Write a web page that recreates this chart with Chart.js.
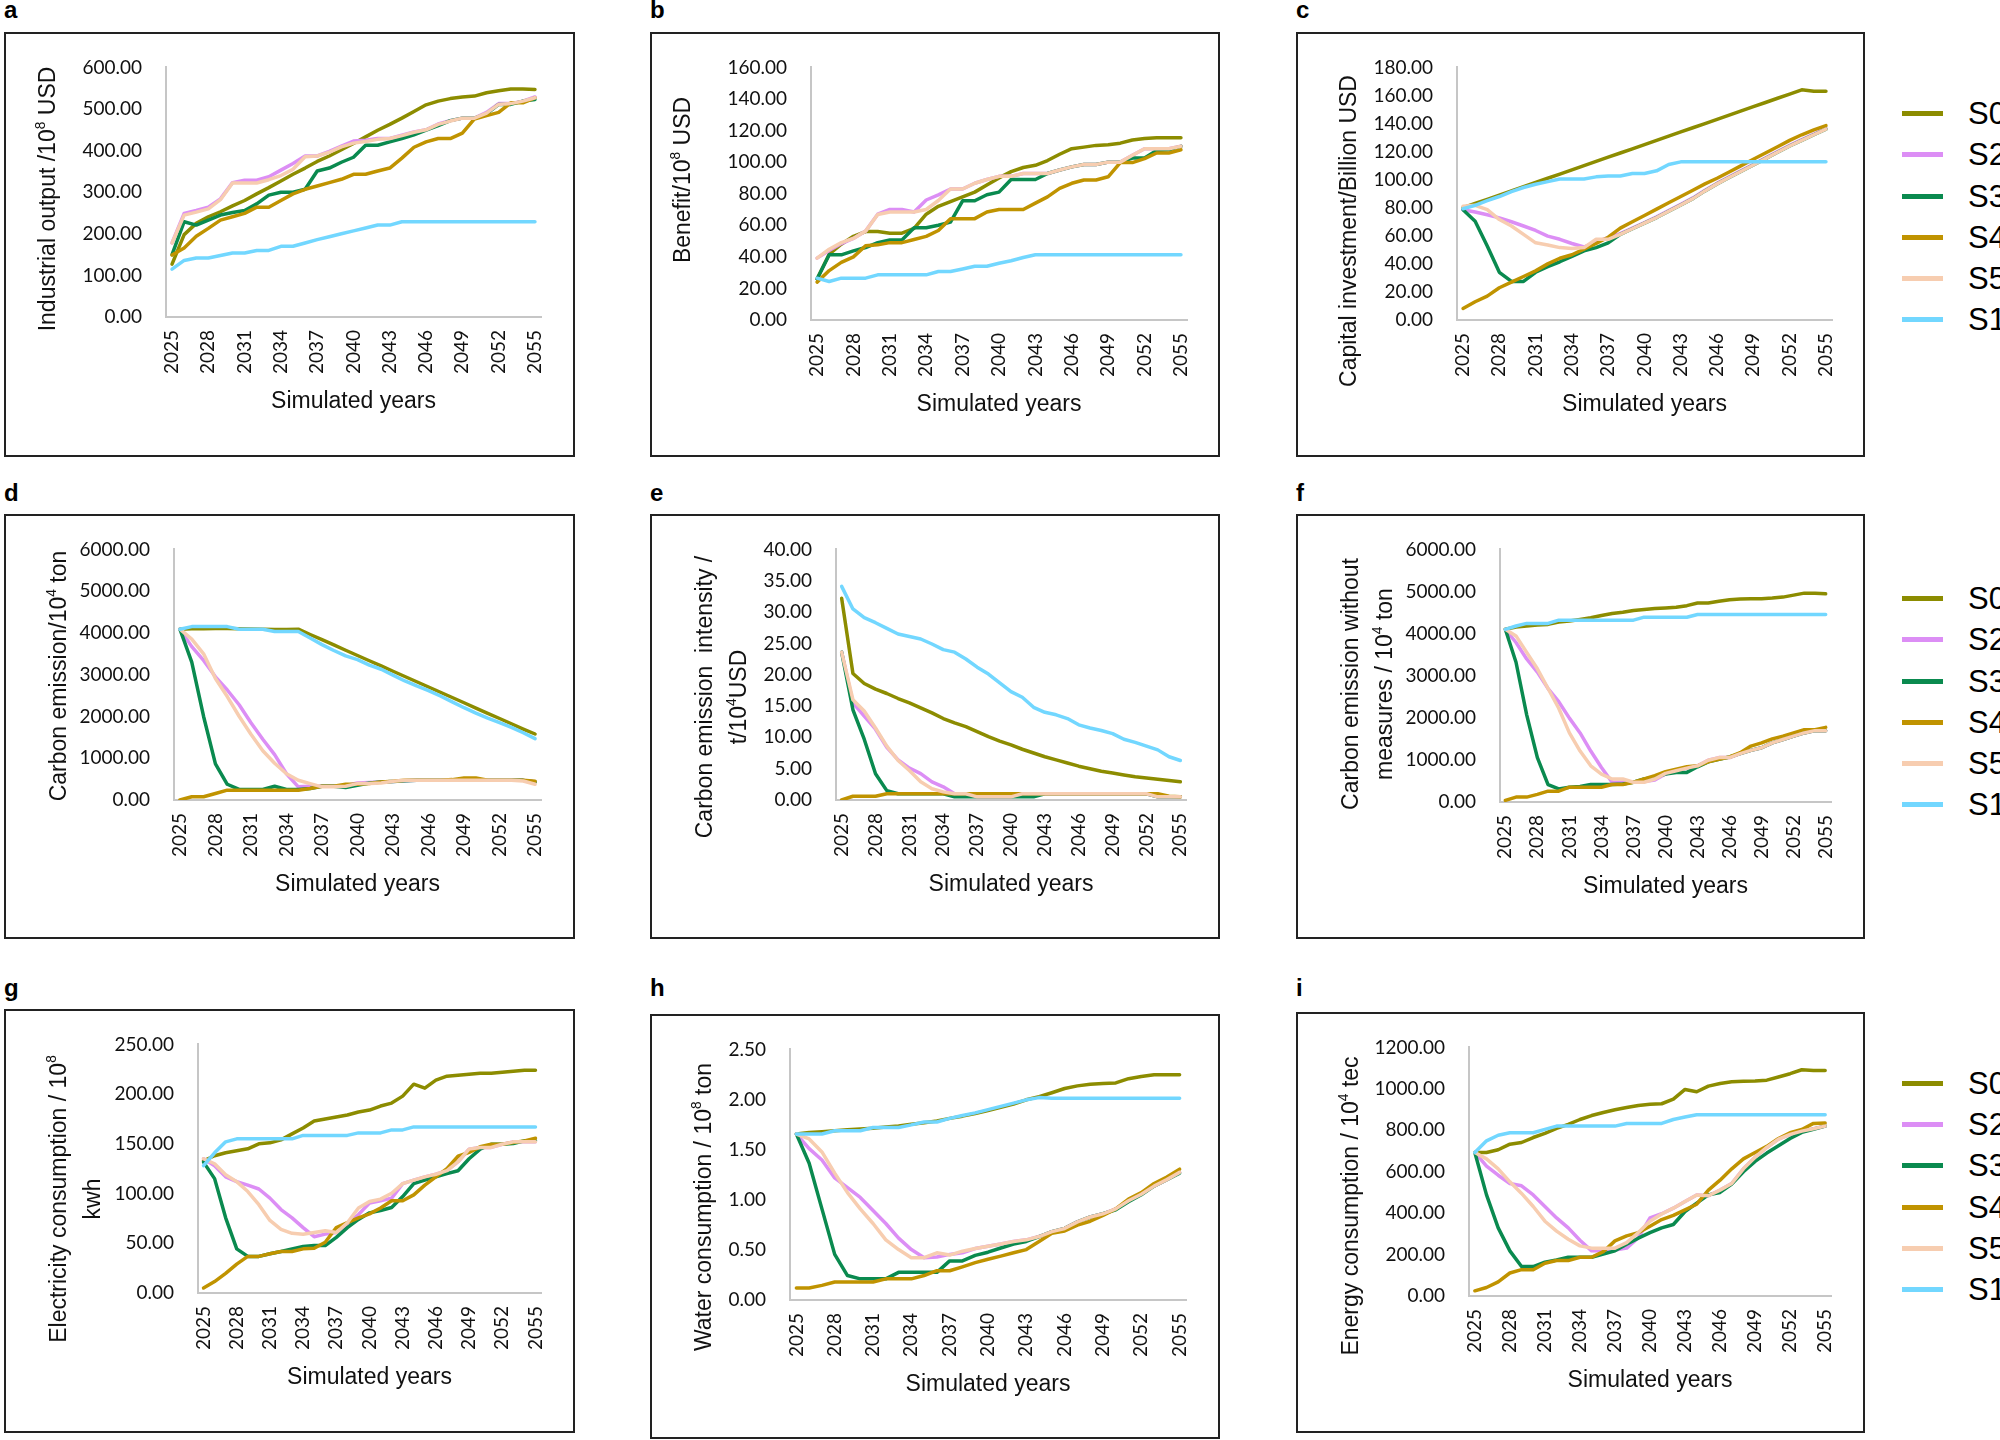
<!DOCTYPE html>
<html>
<head>
<meta charset="utf-8">
<script src="https://cdn.jsdelivr.net/npm/chart.js@4.4.1/dist/chart.umd.min.js"></script>
<style>
  body { margin: 0; width: 2000px; height: 1440px; background: #fff; overflow: hidden; position: relative; }
  .box { position: absolute; border: 2px solid #222; box-sizing: border-box; pointer-events: none; }
  canvas { position: absolute; }
  .ytitle, .xtitle { position: absolute; white-space: nowrap; text-align: center; color: #111;
    font-family: "Liberation Sans", Arial, sans-serif; font-size: 23px; line-height: 34px; }
  .ytitle { transform: translate(-50%, -50%) rotate(-90deg); }
  .xtitle { transform: translate(-50%, -50%); }
  sup { font-size: 0.6em; line-height: 0; vertical-align: 0.7em; }
  .letter { position: absolute; font: bold 24px "Liberation Sans", Arial, sans-serif; line-height: 24px; color: #000; }
  .legline { position: absolute; height: 5px; }
  .legtext { position: absolute; font-family: "Liberation Sans Narrow", "Liberation Sans", Arial, sans-serif; font-size: 31px; line-height: 31px; color: #000; }
</style>
</head>
<body>
<script>
// x categories
const years = ['2025','2026','2027','2028','2029','2030','2031','2032','2033','2034','2035','2036','2037','2038','2039','2040',
               '2041','2042','2043','2044','2045','2046','2047','2048','2049','2050','2051','2052','2053','2054','2055'];
const scenarioNames = ['S0', 'S2', 'S3', 'S4', 'S5', 'S1'];
const scenarioColors = ['#8c8c00', '#dc8ef5', '#0a8a4f', '#c09300', '#f7cdb0', '#72d7ff'];

// a - industrial output
const outputS0 = [127,198,225,241,253,267,280,296,311,327,343,358,374,387,402,417,433,449,463,478,494,510,519,525,529,531,539,544,548,548,547];
const outputS2 = [178,249,256,264,284,323,329,329,337,353,369,387,387,398,411,423,425,429,429,437,445,450,464,472,478,478,492,513,513,519,529];
const outputS3 = [150,229,221,233,245,251,256,272,293,300,300,307,351,358,372,384,413,413,421,429,438,449,460,472,478,478,488,511,511,519,523];
const outputS4 = [149,166,194,213,233,241,249,264,264,280,296,307,315,323,331,343,343,351,358,382,408,421,429,429,442,476,484,492,515,515,527];
const outputS5 = [178,245,252,260,282,322,322,322,330,340,355,385,387,396,409,418,422,427,429,436,444,450,463,471,478,478,490,511,513,519,527];
const outputS1 = [115,136,142,142,148,154,154,160,160,170,170,178,186,193,200,207,214,221,221,229,229,229,229,229,229,229,229,229,229,229,229];

// b - benefit
const benefitS0 = [26,41.7,48,53,56,56,55,55,58,67,72,75,78,81,85.5,90,94,96.6,98,101,105,108.5,109.5,110.6,111,112,114,115,115.4,115.4,115.4];
const benefitS2 = [39.2,44,48.4,51.7,56.3,67,70,70,68.4,76,79.3,83,83,86.6,89,91,91,92.8,92.8,92.8,95,97,98.5,98.5,100,100,104.3,108.5,108.5,108.5,110];
const benefitS3 = [26,41.3,41.3,43.8,45.9,49,50.7,50.7,58.4,58.4,60,62,75.5,75.5,79.3,81,89,89,89,92.8,95,97,98.5,98.5,100,100,102.6,102.6,107.4,107.8,110];
const benefitS4 = [24,31.3,36.5,40,47,47.6,49,49,51,53,56.7,64.2,64.2,64.2,68.4,70,70,70,74,78,83.4,86.6,88.7,88.7,90.7,99.7,99.7,102.2,105.8,105.8,107.8];
const benefitS5 = [39.2,44.8,49,51.7,56.3,66.8,68.4,68.4,68.4,70,75.7,83,83,86.6,89,91,91,92.8,92.8,92.8,95,97,98.5,98.5,100,100,104.3,108.5,108.5,108.5,110];
const benefitS1 = [26.5,24.4,26.5,26.5,26.5,28.6,28.6,28.6,28.6,28.6,30.7,30.7,32.3,34,34,35.9,37.5,39.6,41.3,41.3,41.3,41.3,41.3,41.3,41.3,41.3,41.3,41.3,41.3,41.3,41.3];

// c - capital investment
const capitalS0 = [80,83,86,89,92,95,98,101,104,107,110,113,116,119,122,125,128,131,134,137,140,143,146,149,152,155,158,161,164,163,163];
const capitalS2 = [78.6,77,75,72.8,70,67,63.8,59.8,57.5,54.5,52,55.9,58.7,61.5,65.5,69.5,73.5,78,82.5,87,92.5,97.5,102,106.5,111,115.5,120,124.5,128.5,132.5,136.5];
const capitalS3 = [78.6,70.4,52.8,34,27.5,27.5,34,38,41.5,45.3,49.3,51.6,55,61,65,69,73,77.5,82,86.5,92,97,101.5,106,110.5,115,119.5,124,128,132,136];
const capitalS4 = [8.2,13,17,23,27,31,35,40,44,46.5,50.5,54.5,59,65.5,70,74.5,79,83.5,88,92.5,97,101,105.5,110,114.5,119,123.5,128,132,135.5,138.5];
const capitalS5 = [81,81.7,78.6,71.6,67,61,55,53.5,51.6,51,51.6,57.5,57.5,61,65,69,73,77.5,82,86.5,92,97,101.5,106,110.5,115,119.5,124,128,132,136];
const capitalS1 = [79.3,81.7,85,88,91.5,94.4,96.7,98.6,100.5,100.5,100.5,102,102.6,102.6,104.4,104.4,106.3,110.8,112.7,112.7,112.7,112.7,112.7,112.7,112.7,112.7,112.7,112.7,112.7,112.7,112.7];

// d - carbon emission
const carbonS0 = [4090,4100,4100,4105,4105,4100,4095,4090,4085,4085,4090,3963,3838,3712,3586,3460,3334,3209,3083,2957,2831,2705,2580,2454,2328,2202,2076,1951,1825,1699,1580];
const carbonS2 = [4090,3672,3342,2949,2634,2281,1848,1455,1085,629,315,330,330,330,340,409,420,430,440,460,470,470,470,470,470,470,470,470,470,470,440];
const carbonS3 = [4090,3303,2000,865,377,252,252,252,330,252,252,275,330,330,300,354,409,432,440,460,470,470,470,470,470,470,470,470,470,470,430];
const carbonS4 = [0,79,79,157,236,236,236,236,236,236,236,275,330,330,377,377,393,432,448,472,472,472,472,488,527,527,472,472,472,472,448];
const carbonS5 = [4090,3853,3500,2910,2477,2005,1573,1180,881,629,472,393,315,315,330,393,393,409,448,472,472,472,472,472,472,472,472,472,472,456,377];
const carbonS1 = [4090,4152,4152,4152,4152,4090,4090,4090,4034,4034,4034,3880,3720,3580,3450,3360,3230,3130,2990,2850,2730,2620,2490,2350,2210,2080,1960,1850,1740,1610,1470];

// e - carbon emission intensity
const intensityS0 = [32.2,20.2,18.6,17.7,17,16.2,15.5,14.7,13.9,13,12.3,11.7,10.9,10.1,9.4,8.8,8.1,7.5,6.9,6.4,5.9,5.4,5,4.6,4.3,4,3.7,3.5,3.3,3.1,2.9];
const intensityS2 = [23.6,15.5,13.4,11.3,8.4,6.4,5.1,4.2,2.9,2.1,1,1,0.5,0.5,0.5,0.5,1,1,1,1,1,1,1,1,1,1,1,1,0.5,0.5,0.5];
const intensityS3 = [23.6,14.4,9.7,4.2,1.5,1,1,1,1,1,0.5,0.5,0.5,0.5,0.5,0.5,0.5,0.5,1,1,1,1,1,1,1,1,1,1,0.5,0.5,0.5];
const intensityS4 = [0,0.6,0.6,0.6,1,1,1,1,1,1,1,1,1,1,1,1,1,1,1,1,1,1,1,1,1,1,1,1,1,0.6,0.5];
const intensityS5 = [23.6,16,14.2,11.5,8.6,6.3,4.7,2.9,1.8,1.3,1,1,0.5,0.5,0.5,0.5,1,1,1,1,1,1,1,1,1,1,1,1,0.5,0.5,0.5];
const intensityS1 = [34.1,30.5,29.1,28.3,27.4,26.5,26.1,25.7,24.9,24,23.6,22.5,21.2,20.1,18.7,17.3,16.4,14.8,14,13.6,13,12,11.5,11.1,10.6,9.7,9.2,8.6,8,6.9,6.3];

// f - carbon emission without measures
const noMeasS0 = [4102,4156,4180,4203,4219,4273,4297,4336,4375,4430,4477,4508,4547,4570,4594,4609,4625,4664,4727,4727,4766,4805,4820,4828,4828,4844,4867,4914,4961,4961,4945];
const noMeasS2 = [4102,3789,3398,3086,2695,2383,1992,1641,1211,820,469,469,469,484,523,664,742,805,859,992,1055,1055,1148,1227,1289,1406,1484,1563,1641,1695,1695];
const noMeasS3 = [4102,3320,2070,1055,414,312,352,367,414,414,414,430,469,547,586,664,703,703,836,953,1016,1070,1148,1227,1289,1406,1484,1563,1641,1695,1695];
const noMeasS4 = [39,117,117,180,258,258,352,352,352,352,414,414,469,547,625,719,781,836,859,953,1016,1070,1172,1328,1406,1500,1563,1641,1719,1719,1773];
const noMeasS5 = [4102,3945,3555,3164,2695,2227,1641,1211,859,664,547,547,469,469,547,680,742,805,859,992,1055,1055,1148,1227,1289,1406,1484,1563,1641,1695,1695];
const noMeasS1 = [4102,4180,4242,4242,4242,4320,4320,4320,4320,4320,4320,4320,4320,4390,4390,4390,4390,4390,4453,4453,4453,4453,4453,4453,4453,4453,4453,4453,4453,4453,4453];

// g - electricity consumption
const elecS0 = [133,138,141,143,145,150,151,154,160,166,173,175,177,179,182,184,188,191,198,210,206,214,218,219,220,221,221,222,223,224,224];
const elecS2 = [135,128,116.8,112,108.5,104.6,95.4,83.9,75.6,65.8,56.6,59.2,60.8,69,79,90.4,92.7,95.4,110,113.5,116.8,119.4,123,132,144.7,146.4,146.4,149.6,152,152,152];
const elecS3 = [131.6,115,75.6,44.4,36.8,36.8,39.5,41.8,44.4,46.7,47.7,47.7,56,65.8,74,80.6,83,86,97,110,113.5,116.8,120,123,135,144.7,149.6,149.6,150.3,153,153];
const elecS4 = [5,11.5,19.7,29,36.8,36.8,39.5,41.8,41.8,44.4,45,51,65.8,70.7,75.6,79.6,85.5,92.7,92.7,98.7,108.5,116.8,125,137.5,141.4,147,149.6,149.6,151.3,153,155.6];
const elecS5 = [135,130,119,112,102,88.8,73,64,60,59,60.8,62.5,60.8,70.7,85.5,92,94.4,100.3,110,113.5,116.8,119.4,123,132,144.7,146.4,146.4,149.6,152,152,152];
const elecS1 = [128,141,152,155,155,155,155,155,155,158.5,158.5,158.5,158.5,158.5,161,161,161,164,164,167,167,167,167,167,167,167,167,167,167,167,167];

// h - water consumption
const waterS0 = [1.656,1.672,1.679,1.688,1.698,1.705,1.714,1.727,1.737,1.753,1.769,1.786,1.812,1.834,1.860,1.890,1.922,1.955,1.997,2.029,2.068,2.110,2.136,2.153,2.159,2.166,2.208,2.230,2.247,2.247,2.247];
const waterS2 = [1.656,1.51,1.396,1.218,1.12,1.023,0.893,0.763,0.617,0.503,0.422,0.429,0.455,0.471,0.513,0.536,0.558,0.584,0.6,0.633,0.682,0.714,0.779,0.828,0.86,0.909,0.99,1.055,1.136,1.201,1.273];
const waterS3 = [1.656,1.364,0.909,0.455,0.244,0.211,0.211,0.211,0.276,0.276,0.276,0.276,0.39,0.39,0.445,0.477,0.519,0.558,0.584,0.633,0.682,0.714,0.779,0.828,0.86,0.9,0.98,1.05,1.136,1.201,1.266];
const waterS4 = [0.12,0.12,0.146,0.179,0.179,0.179,0.179,0.211,0.211,0.211,0.244,0.292,0.292,0.331,0.373,0.406,0.438,0.471,0.503,0.584,0.666,0.688,0.747,0.786,0.844,0.909,1.006,1.071,1.162,1.227,1.305];
const waterS5 = [1.656,1.607,1.477,1.266,1.071,0.909,0.763,0.6,0.503,0.422,0.422,0.471,0.448,0.487,0.513,0.536,0.558,0.584,0.6,0.633,0.682,0.714,0.779,0.828,0.86,0.909,0.99,1.055,1.136,1.201,1.273];
const waterS1 = [1.656,1.656,1.656,1.688,1.688,1.688,1.721,1.721,1.721,1.747,1.776,1.776,1.812,1.841,1.867,1.899,1.932,1.964,1.997,2.019,2.013,2.013,2.013,2.013,2.013,2.013,2.013,2.013,2.013,2.013,2.013];

// i - energy consumption
const energyS0 = [693,693,706,733,741,765,785,809,828,852,871,886,899,910,920,926,928,950,997,986,1013,1026,1034,1037,1038,1042,1057,1073,1092,1089,1089];
const energyS2 = [693,627,583,543,532,488,432,377,329,269,218,218,222,231,282,377,397,424,456,488,484,511,543,614,670,717,757,780,796,807,820];
const energyS3 = [693,488,329,218,142,142,163,174,187,187,187,203,218,250,279,306,329,345,408,448,488,500,540,600,650,690,725,760,790,805,820];
const energyS4 = [25,41,68,111,127,127,158,171,171,187,187,214,266,290,306,337,369,389,416,443,511,559,614,662,693,722,760,788,804,833,835];
const energyS5 = [693,662,614,551,495,432,361,313,274,242,231,231,231,258,306,361,396,424,456,488,484,511,543,614,670,717,757,780,796,807,820];
const energyS1 = [693,749,776,788,788,788,804,820,820,820,820,820,820,833,833,833,833,852,864,875,875,875,875,875,875,875,875,875,875,875,875];

// layout: box = frame [l,t,r,b], plot = chart area [l,t,r,b], yt = y title centre
const panels = [
  { letter: 'a', box: [4, 32, 575, 457], plot: [166, 62, 541, 317], max: 600, step: 100,
    series: [outputS0, outputS2, outputS3, outputS4, outputS5, outputS1],
    yTitle: 'Industrial output /10<sup>8</sup> USD', yt: [47, 199] },
  { letter: 'b', box: [650, 32, 1220, 457], plot: [811, 64, 1187, 320], max: 160, step: 20,
    series: [benefitS0, benefitS2, benefitS3, benefitS4, benefitS5, benefitS1],
    yTitle: 'Benefit/10<sup>8</sup> USD', yt: [682, 180] },
  { letter: 'c', box: [1296, 32, 1865, 457], plot: [1457, 64, 1832, 320], max: 180, step: 20,
    series: [capitalS0, capitalS2, capitalS3, capitalS4, capitalS5, capitalS1],
    yTitle: 'Capital investment/Billion USD', yt: [1348, 231], legend: [113, 154, 196, 237, 278, 319] },
  { letter: 'd', box: [4, 514, 575, 939], plot: [174, 546, 541, 800], max: 6000, step: 1000,
    series: [carbonS0, carbonS2, carbonS3, carbonS4, carbonS5, carbonS1],
    yTitle: 'Carbon emission/10<sup>4</sup> ton', yt: [58, 676] },
  { letter: 'e', box: [650, 514, 1220, 939], plot: [836, 546, 1186, 800], max: 40, step: 5,
    series: [intensityS0, intensityS2, intensityS3, intensityS4, intensityS5, intensityS1],
    yTitle: 'Carbon emission&nbsp; intensity /<br>t/10<sup>4</sup>USD', yt: [721, 697] },
  { letter: 'f', box: [1296, 514, 1865, 939], plot: [1500, 546, 1831, 802], max: 6000, step: 1000,
    series: [noMeasS0, noMeasS2, noMeasS3, noMeasS4, noMeasS5, noMeasS1],
    yTitle: 'Carbon emission without<br>measures / 10<sup>4</sup> ton', yt: [1367, 684], legend: [598, 639, 681, 722, 763, 804] },
  { letter: 'g', box: [4, 1009, 575, 1433], plot: [198, 1040, 541, 1293], max: 250, step: 50,
    series: [elecS0, elecS2, elecS3, elecS4, elecS5, elecS1],
    yTitle: 'Electricity consumption / 10<sup>8</sup><br>kwh', yt: [75, 1199] },
  { letter: 'h', box: [650, 1014, 1220, 1439], plot: [790, 1043, 1186, 1300], max: 2.5, step: 0.5,
    series: [waterS0, waterS2, waterS3, waterS4, waterS5, waterS1],
    yTitle: 'Water consumption / 10<sup>8</sup> ton', yt: [703, 1207] },
  { letter: 'i', box: [1296, 1012, 1865, 1433], plot: [1469, 1043, 1831, 1296], max: 1200, step: 200,
    series: [energyS0, energyS2, energyS3, energyS4, energyS5, energyS1],
    yTitle: 'Energy consumption / 10<sup>4</sup> tec', yt: [1350, 1206], legend: [1083, 1124, 1165, 1207, 1248, 1289] }
];
const letterBaselines = { a: 18, b: 18, c: 18, d: 501, e: 501, f: 501, g: 996, h: 996, i: 996 };

const tickFont = { family: 'Lato', size: 19 };
const axisGray = '#c6c6c6';

function addEl(cls, html, css) {
  const el = document.createElement('div');
  el.className = cls;
  el.innerHTML = html;
  Object.assign(el.style, css);
  document.body.appendChild(el);
  return el;
}

function drawPanel(p) {
  const [bl, bt, br, bb] = p.box;
  const [pl, pt, pr, pb] = p.plot;
  const w = br - bl, h = bb - bt;

  const canvas = document.createElement('canvas');
  canvas.width = w;
  canvas.height = h;
  canvas.style.left = bl + 'px';
  canvas.style.top = bt + 'px';
  canvas.style.width = w + 'px';
  canvas.style.height = h + 'px';
  document.body.appendChild(canvas);

  new Chart(canvas, {
    type: 'line',
    data: {
      labels: years,
      datasets: p.series.map((vals, i) => ({
        label: scenarioNames[i],
        data: vals,
        borderColor: scenarioColors[i],
        backgroundColor: scenarioColors[i],
        borderWidth: 3.5,
        pointRadius: 0,
        tension: 0,
        fill: false,
        borderJoinStyle: 'round',
        borderCapStyle: 'round',
        order: 6 - i // later series drawn on top, as in the original
      }))
    },
    options: {
      responsive: false,
      animation: false,
      devicePixelRatio: 1,
      layout: { padding: { top: pt - bt, right: br - pr, left: 0, bottom: 0 } },
      plugins: { legend: { display: false }, tooltip: { enabled: false } },
      scales: {
        x: {
          type: 'category',
          offset: true,
          grid: { display: false, drawTicks: false },
          border: { display: true, color: axisGray, width: 2 },
          ticks: {
            autoSkip: false, minRotation: 90, maxRotation: 90, padding: 13,
            color: '#111', font: tickFont,
            callback: (v, i) => (i % 3 === 0 ? years[i] : '')
          },
          afterFit: s => { s.height = bb - pb; }
        },
        y: {
          min: 0, max: p.max,
          grid: { display: false, drawTicks: false },
          border: { display: true, color: axisGray, width: 2 },
          ticks: { stepSize: p.step, padding: 24, color: '#111', font: tickFont, callback: v => v.toFixed(2) },
          afterFit: s => { s.width = pl - bl; }
        }
      }
    }
  });

  addEl('box', '', { left: bl + 'px', top: bt + 'px', width: w + 'px', height: h + 'px' });
  addEl('ytitle', p.yTitle, { left: p.yt[0] + 'px', top: p.yt[1] + 'px' });
  addEl('xtitle', 'Simulated years', { left: (pl + pr) / 2 + 'px', top: (pb + 83) + 'px' });
  addEl('letter', p.letter, { left: bl + 'px', top: (letterBaselines[p.letter] - 20) + 'px' });

  if (p.legend) {
    p.legend.forEach((y, i) => {
      addEl('legline', '', { left: '1902px', top: (y - 2.5) + 'px', width: '41px', background: scenarioColors[i] });
      addEl('legtext', scenarioNames[i], { left: '1968px', top: (y - 15) + 'px' });
    });
  }
}

panels.forEach(drawPanel);
</script>
</body>
</html>
